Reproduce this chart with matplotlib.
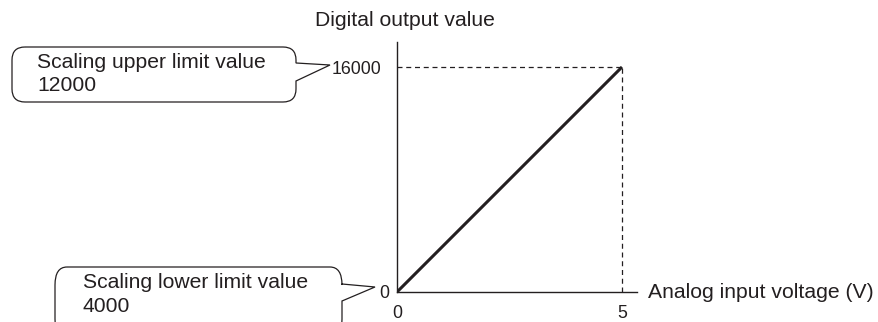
import matplotlib
matplotlib.use("Agg")
import matplotlib.pyplot as plt
from matplotlib.path import Path
from matplotlib.patches import PathPatch
from matplotlib.transforms import ScaledTranslation

plt.rcParams['font.family'] = ['Liberation Sans', 'DejaVu Sans']

# data
voltage = [0, 5]
digital = [0, 16000]
x_ticks = [0, 5]
y_ticks = [0, 16000]
x_label = "Analog input voltage (V)"
y_label = "Digital output value"
upper_note = ["Scaling upper limit value", "12000"]
lower_note = ["Scaling lower limit value", "4000"]

TXT = '#231f20'
FS = 15.2
W, H = 879, 322
fig = plt.figure(figsize=(W / 100, H / 100), dpi=100)

# overlay axes in pixel coordinates (for callouts)
ov = fig.add_axes([0, 0, 1, 1])
ov.set_xlim(0, W)
ov.set_ylim(H, 0)
ov.axis('off')

# main axes
x0, x1 = 397, 637
y0, y1 = 292, 42
ax = fig.add_axes([x0 / W, (H - y0) / H, (x1 - x0) / W, (y0 - y1) / H])
xmax = 5 * (x1 - x0) / (622 - x0)
ymax = 16000 * (y0 - y1) / (y0 - 67)
ax.set_xlim(0, xmax)
ax.set_ylim(0, ymax)
ax.patch.set_alpha(0)
for s in ['top', 'right']:
    ax.spines[s].set_visible(False)
for s in ['left', 'bottom']:
    ax.spines[s].set_linewidth(1.0)
    ax.spines[s].set_color(TXT)

ax.plot(voltage, digital, color=TXT, lw=2.2, solid_capstyle='butt')
ax.plot([0, voltage[1]], [digital[1], digital[1]], color=TXT, lw=0.9,
        dashes=(4, 3))
ax.plot([voltage[1], voltage[1]], [0, digital[1]], color=TXT, lw=0.9,
        dashes=(4, 3))

ax.set_xticks(x_ticks)
ax.set_xticklabels([str(v) for v in x_ticks])
ax.set_yticks(y_ticks)
ax.set_yticklabels([str(v) for v in y_ticks])
ax.tick_params(axis='both', length=0, labelsize=12.8, colors=TXT)
ax.tick_params(axis='x', pad=9)
ax.tick_params(axis='y', pad=11)
for lbl in ax.get_yticklabels():
    if lbl.get_text() == '0':
        lbl.set_transform(lbl.get_transform() +
                          ScaledTranslation(8 / 100, 0, fig.dpi_scale_trans))

ov.text(405, 20, y_label, fontsize=FS, ha='center', va='center', color=TXT)
ov.text(648, 292, x_label, fontsize=FS, ha='left', va='center', color=TXT)


def bubble(left, right, top, bottom, rx, ry, p_top, p_bot, tip):
    verts = [
        (left + rx, top),
        (right - rx, top),
        (right, top), (right, top + ry),
        (right, p_top),
        tip,
        (right, p_bot),
        (right, bottom - ry),
        (right, bottom), (right - rx, bottom),
        (left + rx, bottom),
        (left, bottom), (left, bottom - ry),
        (left, top + ry),
        (left, top), (left + rx, top),
    ]
    codes = [Path.MOVETO, Path.LINETO, Path.CURVE3, Path.CURVE3,
             Path.LINETO, Path.LINETO, Path.LINETO, Path.LINETO,
             Path.CURVE3, Path.CURVE3, Path.LINETO,
             Path.CURVE3, Path.CURVE3, Path.LINETO,
             Path.CURVE3, Path.CURVE3]
    p = PathPatch(Path(verts, codes), facecolor='white', edgecolor=TXT,
                  lw=0.9, clip_on=False)
    ov.add_patch(p)


bubble(12, 296, 47, 102, 13, 13, 63, 81, (330, 65))
bubble(55, 342, 267, 337, 12, 18, 284, 301, (375, 287))

ov.text(37, 62, upper_note[0], fontsize=FS, ha='left', va='center', color=TXT)
ov.text(37, 85, upper_note[1], fontsize=FS, ha='left', va='center', color=TXT)
ov.text(83, 283, lower_note[0], fontsize=FS, ha='left', va='center', color=TXT)
ov.text(83, 306, lower_note[1], fontsize=FS, ha='left', va='center', color=TXT)

fig.savefig('out.png', dpi=100)
